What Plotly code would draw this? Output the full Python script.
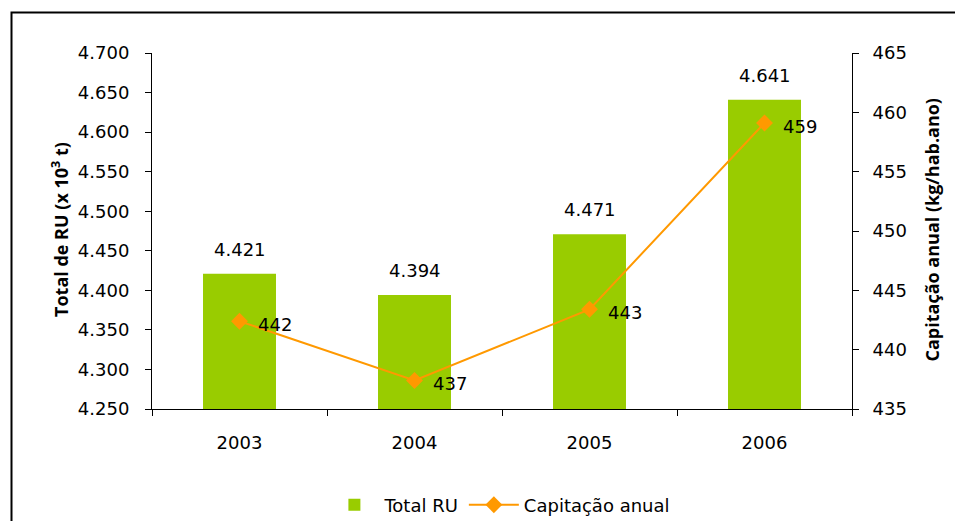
import plotly.graph_objects as go

years = ["2003", "2004", "2005", "2006"]
total_ru = [4421, 4394, 4471, 4641]          # x 10^3 t
total_ru_labels = ["4.421", "4.394", "4.471", "4.641"]
capitacao = [442.4, 437.4, 443.4, 459.1]     # kg/hab.ano
capitacao_labels = ["442", "437", "443", "459"]

left_ticks = [4250, 4300, 4350, 4400, 4450, 4500, 4550, 4600, 4650, 4700]
right_ticks = [435, 440, 445, 450, 455, 460, 465]

GREEN = "#99CC00"
ORANGE = "#FF9900"
TICK_FONT = dict(family="DejaVu Sans", size=18, color="#000000")
TITLE_FONT = dict(family="Open Sans", size=18, color="#000000", weight="bold")

fig = go.Figure()
fig.add_trace(go.Bar(
    x=years, y=total_ru, name="Total RU",
    marker=dict(color=GREEN, line=dict(width=0)),
    width=0.417,
))
fig.add_trace(go.Scatter(
    x=years, y=capitacao, name="Capitação anual",
    mode="lines+markers",
    line=dict(color=ORANGE, width=2),
    marker=dict(symbol="diamond", size=13, color=ORANGE),
    yaxis="y2",
))

# data labels above bars
for i, (v, lab) in enumerate(zip(total_ru, total_ru_labels)):
    fig.add_annotation(
        x=i, y=v, xref="x", yref="y", text=lab,
        showarrow=False, yanchor="bottom", yshift=12,
        font=TICK_FONT,
    )

# data labels for the line
for i, (v, lab) in enumerate(zip(capitacao, capitacao_labels)):
    fig.add_annotation(
        x=i, y=v, xref="x", yref="y2", text=lab,
        showarrow=False, xanchor="left", yanchor="middle",
        xshift=16, yshift=-3, font=TICK_FONT,
    )

# axis titles
fig.add_annotation(
    x=(60 - 152) / 700, y=(409 - 230) / 356, xref="paper", yref="paper",
    text="Total de RU (x 10<sup>3</sup> t)", textangle=-90,
    showarrow=False, font=TITLE_FONT, xanchor="center", yanchor="middle",
)
fig.add_annotation(
    x=(931 - 152) / 700, y=(409 - 229.5) / 356, xref="paper", yref="paper",
    text="Capitação anual (kg/hab.ano)", textangle=-90,
    showarrow=False, font=TITLE_FONT, xanchor="center", yanchor="middle",
)

# outer frame
fig.add_shape(
    type="rect", xref="paper", yref="paper",
    x0=(11.5 - 152) / 700, x1=(975 - 152) / 700,
    y0=(409 - 540) / 356, y1=(409 - 12.5) / 356,
    line=dict(color="#000000", width=2), fillcolor="rgba(0,0,0,0)",
    layer="above",
)

axis_common = dict(
    showline=True, linecolor="#000000", linewidth=1,
    tickcolor="#000000", showgrid=False, zeroline=False, automargin=False,
)

fig.update_layout(
    width=955, height=521,
    margin=dict(l=152, r=103, t=53, b=112, autoexpand=False),
    paper_bgcolor="white", plot_bgcolor="white",
    separators=",.",
    showlegend=True,
    legend=dict(
        orientation="h", x=0.497, xanchor="center",
        y=(409 - 505) / 356, yanchor="middle",
        font=dict(family="DejaVu Sans", size=18, color="#000000"),
        traceorder="normal", itemwidth=50,
    ),
    xaxis=dict(
        type="category", categoryorder="array", categoryarray=years,
        range=[-0.5, 3.5],
        ticks="outside", ticklen=6, tickson="boundaries",
        tickfont=TICK_FONT, ticklabelstandoff=17, **axis_common,
    ),
    yaxis=dict(
        range=[4250, 4700], tickvals=left_ticks, tickformat=",d",
        ticks="outside", ticklen=6,
        tickfont=TICK_FONT, ticklabelstandoff=12, **axis_common,
    ),
    yaxis2=dict(
        range=[435, 465], tickvals=right_ticks, overlaying="y", side="right",
        ticks="outside", ticklen=6,
        tickfont=TICK_FONT, ticklabelstandoff=10, **axis_common,
    ),
    # inner halves of the crossing tick marks
    yaxis3=dict(
        range=[4250, 4700], tickvals=left_ticks, overlaying="y", side="left",
        ticks="inside", ticklen=3, showticklabels=False, **axis_common,
    ),
    yaxis4=dict(
        range=[435, 465], tickvals=right_ticks, overlaying="y", side="right",
        ticks="inside", ticklen=3, showticklabels=False, **axis_common,
    ),
)

fig.write_html(
    "out.html",
    config={"displayModeBar": False},
    post_script="document.body.style.margin='0';",
)
